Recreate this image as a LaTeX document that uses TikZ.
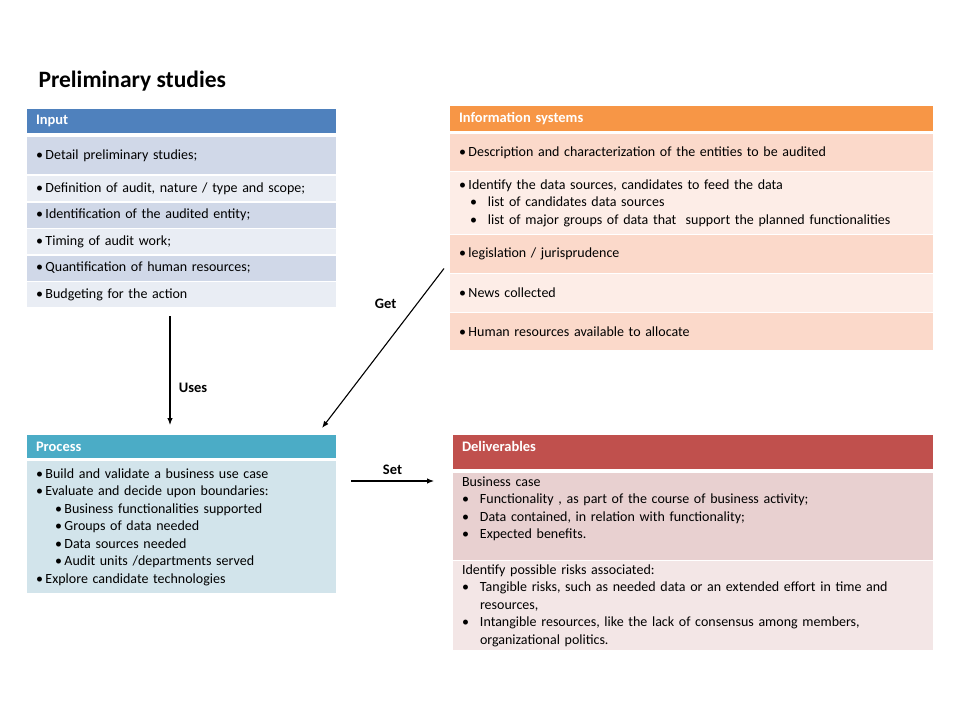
\documentclass[tikz,border=0pt]{standalone}
\usepackage{fontspec}
\setmainfont{Carlito}
\usetikzlibrary{arrows.meta}

% office palette
\definecolor{inhead}{HTML}{4F81BD}
\definecolor{indark}{HTML}{D0D8E8}
\definecolor{inlight}{HTML}{E9EDF4}
\definecolor{ishead}{HTML}{F79646}
\definecolor{isdark}{HTML}{FBD9CA}
\definecolor{islight}{HTML}{FDEDE7}
\definecolor{prhead}{HTML}{4BACC6}
\definecolor{prbody}{HTML}{D2E4EB}
\definecolor{dlhead}{HTML}{C0504D}
\definecolor{dldark}{HTML}{E8D0D0}
\definecolor{dllight}{HTML}{F3E6E6}

\tikzset{
	hdr/.style={anchor=north west, outer sep=0pt, inner xsep=9pt, align=left, text=white, font=\bfseries\fontsize{14.5}{17}\selectfont},
	row/.style={anchor=north west, outer sep=0pt, inner xsep=9pt, align=left, font=\fontsize{14}{17.5}\selectfont},
	narrow/.style={minimum width=309pt, text width=291pt},
	wide/.style={minimum width=483pt, text width=465pt},
	flow/.style={-{Latex[length=7pt,width=5.5pt]}, line width=1.1pt},
	lbl/.style={font=\bfseries\fontsize{14.5}{17}\selectfont}
}
\newcommand{\blt}{\makebox[9.5pt][l]{•}}
\newcommand{\dbl}{\makebox[18pt][l]{•}}

\begin{document}
\begin{tikzpicture}[x=1pt,y=-1pt]
	\useasboundingbox (0,0) rectangle (960,720);

	% titre
	\node [anchor=west, font=\bfseries\fontsize{23.5}{28}\selectfont] (title) at (35,81) {Preliminary studies};

	% input
	\node [hdr, narrow, fill=inhead, minimum height=24pt] (inhd) at (27,109) {Input};
	\node [row, narrow, fill=indark, minimum height=37pt] (in1) at (27,137) {\blt Detail preliminary studies;};
	\node [row, narrow, fill=inlight, minimum height=25pt] (in2) at (27,176) {\blt Definition of audit, nature / type and scope;};
	\node [row, narrow, fill=indark, minimum height=25pt] (in3) at (27,202.5) {\blt Identification of the audited entity;};
	\node [row, narrow, fill=inlight, minimum height=25pt] (in4) at (27,229) {\blt Timing of audit work;};
	\node [row, narrow, fill=indark, minimum height=25pt] (in5) at (27,255.5) {\blt Quantification of human resources;};
	\node [row, narrow, fill=inlight, minimum height=25pt] (in6) at (27,282) {\blt Budgeting for the action};

	% information systems
	\node [hdr, wide, fill=ishead, minimum height=25pt] (ishd) at (450,106) {Information systems};
	\node [row, wide, fill=isdark, minimum height=37pt] (is1) at (450,134) {\blt Description and characterization of the entities to be audited};
	\node [row, wide, fill=islight, minimum height=62pt] (is2) at (450,172) {\blt Identify the data sources, candidates to feed the data\\
		\hspace*{11pt}\dbl list of candidates data sources\\
		\hspace*{11pt}\dbl list of major groups of data that\ \ support the planned functionalities};
	\node [row, wide, fill=isdark, minimum height=38pt] (is3) at (450,235) {\blt legislation / jurisprudence};
	\node [row, wide, fill=islight, minimum height=38pt] (is4) at (450,274) {\blt News collected};
	\node [row, wide, fill=isdark, minimum height=37pt] (is5) at (450,313) {\blt Human resources available to allocate};

	% process
	\node [hdr, narrow, fill=prhead, minimum height=23pt] (prhd) at (27,435) {Process};
	\node [row, narrow, fill=prbody, minimum height=132pt] (prbd) at (27,461) {\blt Build and validate a business use case\\
		\blt Evaluate and decide upon boundaries:\\
		\hspace*{19pt}\blt Business functionalities supported\\
		\hspace*{19pt}\blt Groups of data needed\\
		\hspace*{19pt}\blt Data sources needed\\
		\hspace*{19pt}\blt Audit units /departments served\\
		\blt Explore candidate technologies};

	% deliverables
	\node [hdr, fill=dlhead, minimum width=480pt, text width=462pt, minimum height=34pt] (dlhd) at (453,435) {Deliverables\\[-6pt]\mbox{}};
	\node [row, fill=dldark, minimum width=480pt, text width=462pt, minimum height=87pt] (dl1) at (453,473) {Business case\\
		\dbl Functionality , as part of the course of business activity;\\
		\dbl Data contained, in relation with functionality;\\
		\dbl Expected benefits.\\
		\mbox{}};
	\node [row, fill=dllight, minimum width=480pt, text width=462pt, minimum height=87pt] (dl2) at (453,561) {Identify possible risks associated:\\
		\dbl Tangible risks, such as needed data or an extended effort in time and\\
		\hspace*{18pt}resources,\\
		\dbl Intangible resources, like the lack of consensus among members,\\
		\hspace*{18pt}organizational politics.};

	% fleches
	\draw [flow] ([shift={(-11.5,9)}]in6.south) -- node [lbl, right, pos=0.66, xshift=5pt] (uses) {Uses} ([shift={(-11.5,-10)}]prhd.north);
	\draw [flow] ([shift={(-6,14.5)}]is3.west) -- node [lbl, pos=0.22, left=17pt] (get) {Get} ([shift={(-14,-7)}]prhd.north east);
	\draw [flow] ([shift={(15,20)}]prbd.north east) -- node [lbl, above=3pt] (set) {Set} ([shift={(-19,8)}]dl1.north west);
\end{tikzpicture}
\end{document}
